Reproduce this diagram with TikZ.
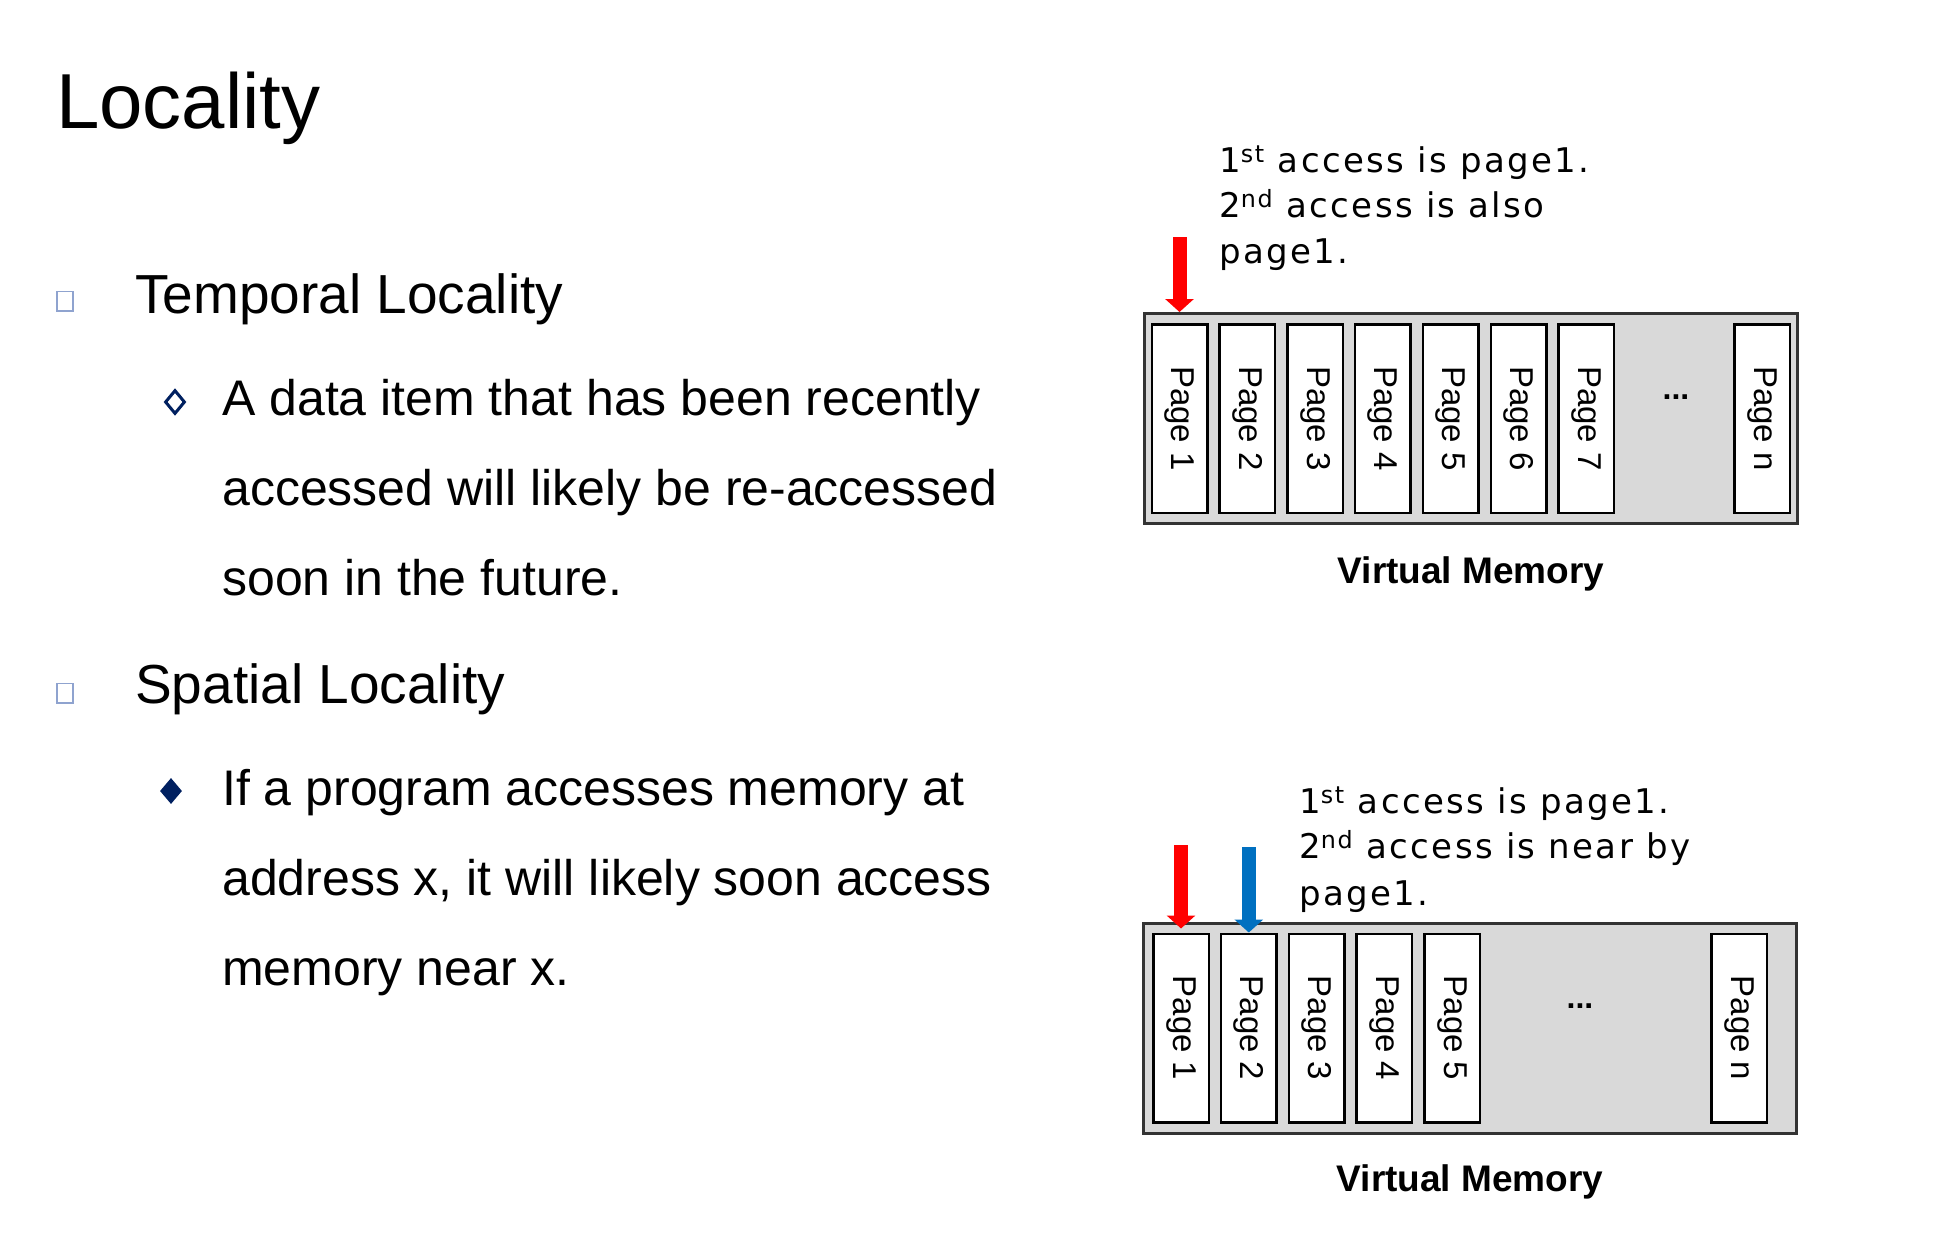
\documentclass[tikz,border=0pt]{standalone}
\usepackage{fontspec}
\setmainfont{Liberation Sans}
\newfontfamily\notefont[LetterSpace=7]{DejaVu Sans}
\usetikzlibrary{positioning,shapes.geometric,arrows.meta}

\definecolor{bulletblue}{HTML}{8FA3CF}
\definecolor{navy}{HTML}{002060}
\definecolor{memgray}{HTML}{D9D9D9}
\definecolor{accessred}{HTML}{FF0000}
\definecolor{accessblue}{HTML}{0070C0}

\tikzstyle{title} = [inner sep=0, anchor=base west, font=\fontsize{78}{90}\selectfont]
\tikzstyle{heading} = [inner sep=0, anchor=base west, font=\fontsize{55}{66}\selectfont]
\tikzstyle{body} = [inner sep=0, anchor=base west, font=\fontsize{50}{60}\selectfont]
\tikzstyle{sqbullet} = [rectangle, draw=bulletblue, line width=1.5pt, minimum width=16pt, minimum height=19.5pt, inner sep=0]
\tikzstyle{hollowdiamond} = [diamond, draw=navy, line width=3pt, minimum width=20pt, minimum height=24pt, inner sep=0]
\tikzstyle{fulldiamond} = [diamond, fill=navy, minimum width=22pt, minimum height=26pt, inner sep=0]
\tikzstyle{memory} = [rectangle, draw=black!80, line width=3pt, fill=memgray, minimum width=653pt, minimum height=210pt, inner sep=0]
\tikzstyle{page} = [rectangle, draw, line width=2.5pt, fill=white, minimum width=55.5pt, minimum height=188.5pt, inner sep=0]
\tikzstyle{pagelabel} = [rotate=-90, inner sep=0, font=\fontsize{33}{40}\selectfont]
\tikzstyle{note} = [inner sep=0, anchor=base west, font=\notefont\fontsize{34}{40}\selectfont]
\tikzstyle{caption} = [inner sep=0, anchor=base, font=\bfseries\fontsize{37}{44}\selectfont]
\tikzstyle{dotsnode} = [inner sep=0, font=\bfseries\fontsize{32}{38}\selectfont]
\tikzstyle{access} = [line width=14pt, -{Triangle[width=28pt,length=13pt]}]

\begin{document}
\begin{tikzpicture}[x=1pt, y=1pt]
        \tikzset{node distance = 9.8pt}
        \path[use as bounding box, fill=white] (0,0) rectangle (1960,-1254);

        % Left column
        \node[title] (ttl) at (56,-128) {Locality};

        \node[sqbullet] (s1) at (65,-301) {};
        \node[heading] (h1) at (135,-313) {Temporal Locality};
        \node[hollowdiamond] (d1) at (175,-402) {};
        \node[body] (t1a) at (222,-415) {A data item that has been recently};
        \node[body] (t1b) at ([yshift=-90pt]t1a.base west) {accessed will likely be re-accessed};
        \node[body] (t1c) at ([yshift=-90pt]t1b.base west) {soon in the future.};

        \node[sqbullet] (s2) at (65,-693) {};
        \node[heading] (h2) at (135,-703) {Spatial Locality};
        \node[fulldiamond] (d2) at (171,-791) {};
        \node[body] (t2a) at (222,-805) {If a program accesses memory at};
        \node[body] (t2b) at ([yshift=-90pt]t2a.base west) {address x, it will likely soon access};
        \node[body] (t2c) at ([yshift=-90pt]t2b.base west) {memory near x.};

        % Temporal: same page twice
        \node[memory] (vm1) at (1471,-418.5) {};
        \node[page, anchor=west] (p1) at ([xshift=7.5pt]vm1.west) {};
        \foreach \i [remember=\i as \prev (initially 1)] in {2,...,7}
            \node[page, right=of p\prev] (p\i) {};
        \node[page, anchor=east] (pn) at ([xshift=-8pt]vm1.east) {};
        \foreach \i in {1,...,7}
            \node[pagelabel] (l\i) at (p\i) {Page \i};
        \node[pagelabel] (ln) at (pn) {Page n};
        \node[dotsnode] (dots1) at (1676,-397) {...};
        \node[caption] (c1) at ([yshift=-58pt]vm1.south) {Virtual Memory};

        \node[note] (n1a) at (1219,-172) {1\textsuperscript{st} access is page1.};
        \node[note] (n1b) at ([yshift=-45pt]n1a.base west) {2\textsuperscript{nd} access is also};
        \node[note] (n1c) at ([yshift=-46pt]n1b.base west) {page1.};

        \coordinate (r1) at (p1.north |- 0,-237);
        \draw[access, accessred] (r1) -- (r1 |- vm1.north);

        % Spatial: neighbouring page
        \node[memory] (vm2) at (1470,-1028) {};
        \node[page, anchor=west] (q1) at ([xshift=10pt]vm2.west) {};
        \foreach \i [remember=\i as \prev (initially 1)] in {2,...,5}
            \node[page, right=of q\prev] (q\i) {};
        \node[page, anchor=east] (qn) at ([xshift=-30pt]vm2.east) {};
        \foreach \i in {1,...,5}
            \node[pagelabel] (k\i) at (q\i) {Page \i};
        \node[pagelabel] (kn) at (qn) {Page n};
        \node[dotsnode] (dots2) at (1580,-1006) {...};
        \node[caption] (c2) at ([yshift=-57pt]vm2.south) {Virtual Memory};

        \node[note] (n2a) at (1299,-813) {1\textsuperscript{st} access is page1.};
        \node[note] (n2b) at ([yshift=-45pt]n2a.base west) {2\textsuperscript{nd} access is near by};
        \node[note] (n2c) at ([yshift=-47pt]n2b.base west) {page1.};

        \coordinate (r2) at (q1.north |- 0,-845);
        \coordinate (b2) at (q2.north |- 0,-847);
        \draw[access, accessred] (r2) -- ([yshift=4pt]q1.north);
        \draw[access, accessblue] (b2) -- (q2.north);
    \end{tikzpicture}
\end{document}
